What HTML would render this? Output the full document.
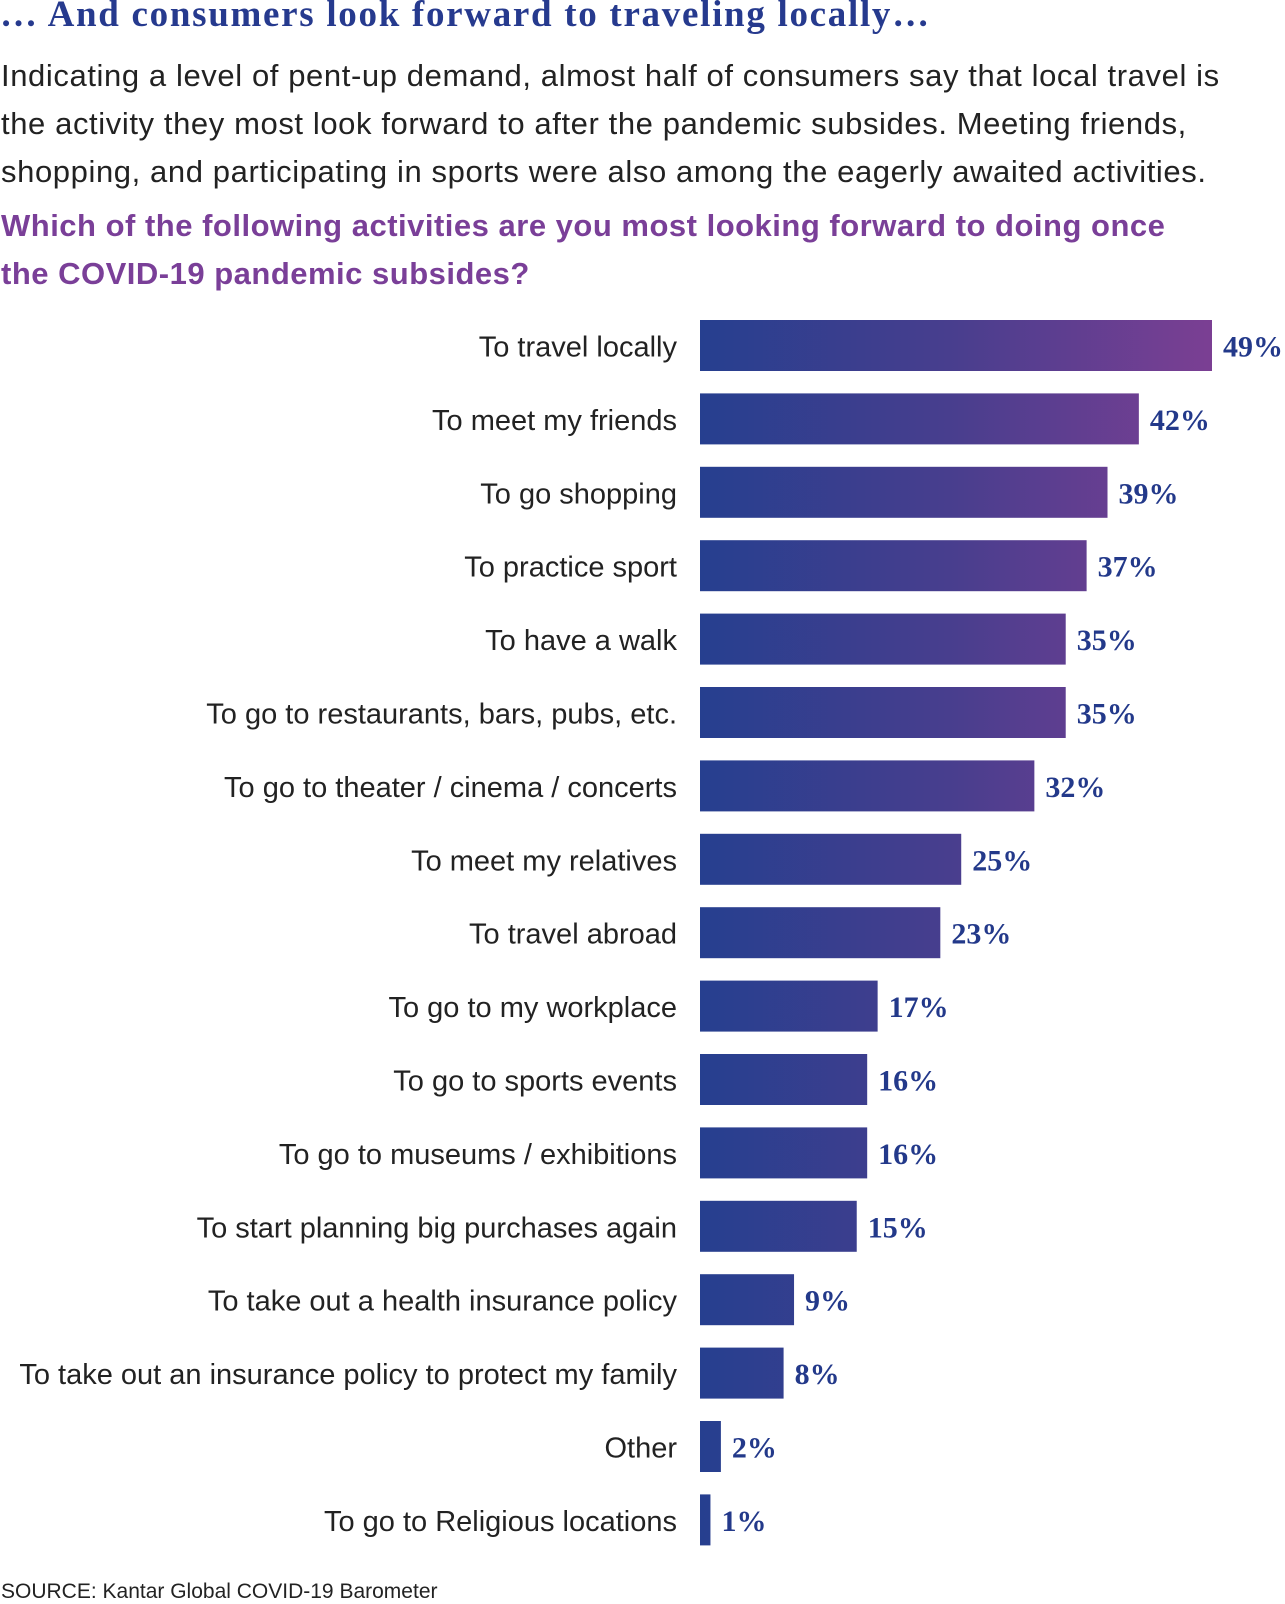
<!DOCTYPE html>
<html><head><meta charset="utf-8">
<style>
body{margin:0;width:1285px;height:1600px;background:#fff;position:relative;overflow:hidden;font-family:"Liberation Sans",sans-serif}
.t{position:absolute;left:0;white-space:nowrap}
#title{top:-7px;font-family:"Liberation Serif",serif;font-weight:bold;font-size:37px;letter-spacing:1.7px;color:#263a8e}
.body{font-size:31px;letter-spacing:0.6px;color:#222;line-height:48px;top:52px;left:1px}
.q{font-size:31px;letter-spacing:0.5px;color:#7a3f98;font-weight:bold;line-height:48px;top:202px;left:1px}
#src{top:1580px;font-size:21px;color:#222;left:1px}
</style></head><body>
<div class="t" id="title">… And consumers look forward to traveling locally…</div>
<div class="t body">Indicating a level of pent-up demand, almost half of consumers say that local travel is<br>the activity they most look forward to after the pandemic subsides. Meeting friends,<br>shopping, and participating in sports were also among the eagerly awaited activities.</div>
<div class="t q">Which of the following activities are you most looking forward to doing once<br>the COVID-19 pandemic subsides?</div>
<svg id="chart" width="1285" height="1600" style="position:absolute;left:0;top:0">
<defs><linearGradient id="g" gradientUnits="userSpaceOnUse" x1="700" y1="0" x2="1212" y2="0"><stop offset="0" stop-color="#263f8f"/><stop offset="0.5" stop-color="#493e8e"/><stop offset="1" stop-color="#7b3f93"/></linearGradient></defs>
</svg>
<div class="t" id="src">SOURCE: Kantar Global COVID-19 Barometer</div>
<script>
const categories=["To travel locally","To meet my friends","To go shopping","To practice sport","To have a walk","To go to restaurants, bars, pubs, etc.","To go to theater / cinema / concerts","To meet my relatives","To travel abroad","To go to my workplace","To go to sports events","To go to museums / exhibitions","To start planning big purchases again","To take out a health insurance policy","To take out an insurance policy to protect my family","Other","To go to Religious locations"];
const values=[49,42,39,37,35,35,32,25,23,17,16,16,15,9,8,2,1];
const svg=document.getElementById('chart');
const NS='http://www.w3.org/2000/svg';
const x0=700,perPct=512/49,top0=320,pitch=73.4,bh=51;
const xs=v=>v*perPct;
const ys=i=>top0+i*pitch;
categories.forEach((c,i)=>{
  const v=values[i],y=ys(i);
  const r=document.createElementNS(NS,'rect');
  r.setAttribute('x',x0);r.setAttribute('y',y);r.setAttribute('width',Math.max(xs(v),8));r.setAttribute('height',bh);
  r.setAttribute('fill','url(#g)');
  
  
  svg.appendChild(r);
  const l=document.createElementNS(NS,'text');
  l.setAttribute('x',677);l.setAttribute('y',y+bh/2+11);l.setAttribute('text-anchor','end');
  l.setAttribute('font-size','29');l.setAttribute('fill','#222');l.setAttribute('font-family','Liberation Sans, sans-serif');
  l.textContent=c;
  
  
  svg.appendChild(l);
  const t=document.createElementNS(NS,'text');
  t.setAttribute('x',x0+Math.max(xs(v),8)+11);t.setAttribute('y',y+bh/2+11);
  t.setAttribute('font-size','30');t.setAttribute('font-weight','bold');t.setAttribute('fill','#23398a');t.setAttribute('font-family','Liberation Serif, serif');
  t.textContent=v+'%';
  
  
  svg.appendChild(t);
});
</script>
</body></html>
